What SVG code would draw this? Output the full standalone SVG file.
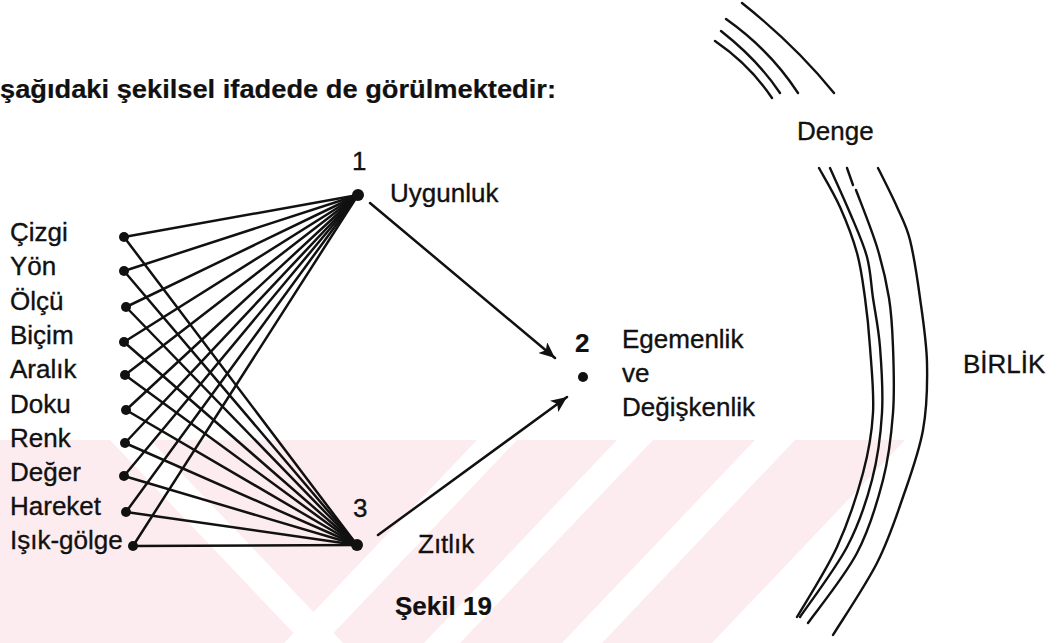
<svg xmlns="http://www.w3.org/2000/svg" width="1060" height="643" viewBox="0 0 1060 643">
<defs>
<style>
.t{font-family:"Liberation Sans",Arial,sans-serif;font-size:26px;fill:#111;stroke:#111;stroke-width:0.35}
.b{font-weight:bold;stroke-width:0.2}
.ln{stroke:#111;stroke-width:2.5;fill:none;stroke-linecap:round}
.arc{stroke:#111;stroke-width:2.4;fill:none;stroke-linecap:round}
.dot{fill:#111}
.wm{fill:#fdecef}
.wh{fill:#ffffff}
</style>
<marker id="ah" markerUnits="userSpaceOnUse" markerWidth="18" markerHeight="14" refX="16" refY="7" orient="auto">
<path d="M0,0 L16,7 L0,14 L4,7 Z" fill="#111"/>
</marker>
<clipPath id="wmclip"><rect x="0" y="440" width="1060" height="203"/></clipPath>
</defs>
<rect width="1060" height="643" fill="#ffffff"/>
<g id="watermark" clip-path="url(#wmclip)">
<polygon class="wm" points="0,440 905,440 712,643 0,643"/>
<polygon class="wh" points="477,440 517,440 324,643 284,643"/>
<polygon class="wh" points="617,440 653,440 460,643 424,643"/>
<polygon class="wh" points="755,440 795,440 602,643 562,643"/>
<polygon class="wh" points="110,440 150,440 343,643 303,643"/>
</g>
<text id="title" class="t b" x="0" y="98" font-size="28" textLength="556" lengthAdjust="spacingAndGlyphs">şağıdaki şekilsel ifadede de görülmektedir:</text>
<g id="connectors">
<line class="ln" x1="124" y1="237" x2="358" y2="195"/>
<line class="ln" x1="124" y1="271" x2="358" y2="195"/>
<line class="ln" x1="126" y1="307" x2="358" y2="195"/>
<line class="ln" x1="124" y1="342" x2="358" y2="195"/>
<line class="ln" x1="125" y1="375" x2="358" y2="195"/>
<line class="ln" x1="126" y1="410" x2="358" y2="195"/>
<line class="ln" x1="125" y1="443" x2="358" y2="195"/>
<line class="ln" x1="124" y1="476" x2="358" y2="195"/>
<line class="ln" x1="126" y1="512" x2="358" y2="195"/>
<line class="ln" x1="133" y1="546" x2="358" y2="195"/>
<line class="ln" x1="124" y1="237" x2="357" y2="545"/>
<line class="ln" x1="124" y1="271" x2="357" y2="545"/>
<line class="ln" x1="126" y1="307" x2="357" y2="545"/>
<line class="ln" x1="124" y1="342" x2="357" y2="545"/>
<line class="ln" x1="125" y1="375" x2="357" y2="545"/>
<line class="ln" x1="126" y1="410" x2="357" y2="545"/>
<line class="ln" x1="125" y1="443" x2="357" y2="545"/>
<line class="ln" x1="124" y1="476" x2="357" y2="545"/>
<line class="ln" x1="126" y1="512" x2="357" y2="545"/>
<line class="ln" x1="133" y1="546" x2="357" y2="545"/>
<line class="ln" x1="370" y1="203" x2="555" y2="358" marker-end="url(#ah)"/>
<line class="ln" x1="378" y1="535" x2="567" y2="397" marker-end="url(#ah)"/>
</g>
<g id="n-cizgi"><circle class="dot" cx="124" cy="237" r="5"/><text class="t" x="10" y="241">Çizgi</text></g>
<g id="n-yon"><circle class="dot" cx="124" cy="271" r="5"/><text class="t" x="10" y="275">Yön</text></g>
<g id="n-olcu"><circle class="dot" cx="126" cy="307" r="5"/><text class="t" x="10" y="310">Ölçü</text></g>
<g id="n-bicim"><circle class="dot" cx="124" cy="342" r="5"/><text class="t" x="10" y="344">Biçim</text></g>
<g id="n-aralik"><circle class="dot" cx="125" cy="375" r="5"/><text class="t" x="10" y="378">Aralık</text></g>
<g id="n-doku"><circle class="dot" cx="126" cy="410" r="5"/><text class="t" x="10" y="413">Doku</text></g>
<g id="n-renk"><circle class="dot" cx="125" cy="443" r="5"/><text class="t" x="10" y="447">Renk</text></g>
<g id="n-deger"><circle class="dot" cx="124" cy="476" r="5"/><text class="t" x="10" y="481">Değer</text></g>
<g id="n-hareket"><circle class="dot" cx="126" cy="512" r="5"/><text class="t" x="10" y="515">Hareket</text></g>
<g id="n-isik"><circle class="dot" cx="133" cy="546" r="5"/><text class="t" x="10" y="549">Işık-gölge</text></g>
<g id="n1"><circle class="dot" cx="358" cy="195" r="6"/><text class="t" x="352" y="170" font-size="22">1</text><text class="t" x="390" y="202">Uygunluk</text></g>
<g id="n2"><circle class="dot" cx="583" cy="377" r="5"/><text class="t b" x="575" y="352" font-size="24">2</text><text class="t" x="622" y="348">Egemenlik</text><text class="t" x="622" y="382">ve</text><text class="t" x="622" y="416">Değişkenlik</text></g>
<g id="n3"><circle class="dot" cx="357" cy="545" r="6"/><text class="t" x="353" y="517" font-size="24">3</text><text class="t" x="418" y="553">Zıtlık</text></g>
<text id="caption" class="t b" x="395" y="615">Şekil 19</text>
<g id="arcs">
<path class="arc" d="M742,3 Q795,45 834,93"/>
<path class="arc" d="M726,19 Q770,50 798,93"/>
<path class="arc" d="M721,31 Q758,60 780,93"/>
<path class="arc" d="M715,41 Q750,65 772,98"/>
<path class="arc" d="M819,168 C822.5,174.5 833.7,192.8 840,207 C846.3,221.2 852.8,237.8 857,253 C861.2,268.2 862.8,282.3 865,298 C867.2,313.7 868.7,327.8 870,347 C871.3,366.2 874.2,392 873,413 C871.8,434 869,450.7 863,473 C857,495.3 848,523 837,547 C826,571 803.7,605.3 797,617"/>
<path class="arc" d="M830,168 C833.3,175.5 843.8,198.2 850,213 C856.2,227.8 863.2,242.8 867,257 C870.8,271.2 870.8,283 873,298 C875.2,313 878.5,327.8 880,347 C881.5,366.2 883.3,390.8 882,413 C880.7,435.2 877.8,457.7 872,480 C866.2,502.3 859,524.2 847,547 C835,569.8 807.8,605.3 800,617"/>
<path class="arc" d="M847,168 L853,185"/>
<path class="arc" d="M856,190 C859.5,199.5 871.5,229 877,247 C882.5,265 886.3,281.3 889,298 C891.7,314.7 892.3,327.8 893,347 C893.7,366.2 894.7,390.8 893,413 C891.3,435.2 889,456.7 883,480 C877,503.3 869.5,529.2 857,553 C844.5,576.8 816.2,611.3 808,623"/>
<path class="arc" d="M878,168 C881.2,174.5 891.7,195 897,207 C902.3,219 906.2,224.8 910,240 C913.8,255.2 917.2,277.5 920,298 C922.8,318.5 926.5,341 927,363 C927.5,385 927,407.7 923,430 C919,452.3 910.7,474.8 903,497 C895.3,519.2 888.7,540 877,563 C865.3,586 840.3,623 833,635"/>
</g>
<text id="denge" class="t" x="797" y="140">Denge</text>
<text id="birlik" class="t" x="963" y="373">BİRLİK</text>
</svg>
